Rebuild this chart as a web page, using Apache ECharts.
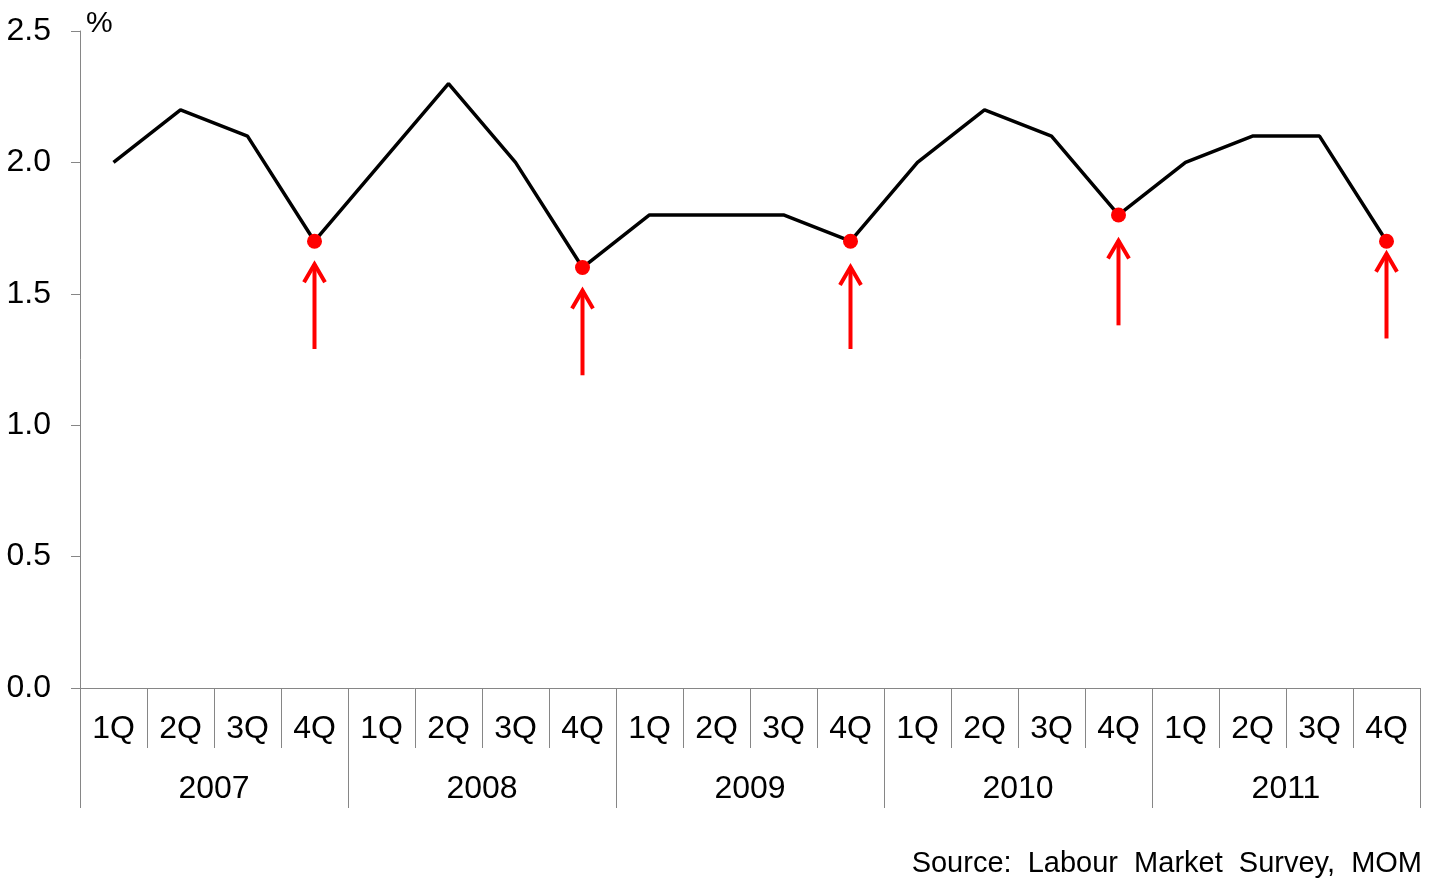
<!DOCTYPE html>
<html>
<head>
<meta charset="utf-8">
<script src="https://cdn.jsdelivr.net/npm/echarts@6/dist/echarts.min.js"></script>
<style>
html,body{margin:0;padding:0;background:#fff;}
#main{width:1444px;height:892px;}
</style>
</head>
<body>
<div id="main"></div>
<script>
// ---- data ----
var quarters = ['1Q','2Q','3Q','4Q','1Q','2Q','3Q','4Q','1Q','2Q','3Q','4Q','1Q','2Q','3Q','4Q','1Q','2Q','3Q','4Q'];
var years = ['2007','2008','2009','2010','2011'];
var rates = [2.0,2.2,2.1,1.7, 2.0,2.3,2.0,1.6, 1.8,1.8,1.8,1.7, 2.0,2.2,2.1,1.8, 2.0,2.1,2.1,1.7];
var highlightIdx = [3, 7, 11, 15, 19];
var arrowTop = [1.62, 1.52, 1.61, 1.71, 1.66];
var arrowBottom = [1.29, 1.19, 1.29, 1.38, 1.33];
var yTicks = [0, 0.5, 1.0, 1.5, 2.0, 2.5];
var sourceText = 'Source:  Labour  Market  Survey,  MOM';

var FONT = '"Liberation Sans", Arial, sans-serif';
var AXIS_GRAY = '#868686';

var chart = echarts.init(document.getElementById('main'), null, {renderer: 'canvas'});

var highlightData = highlightIdx.map(function (i) { return [i, rates[i]]; });
var arrowData = highlightIdx.map(function (i, k) { return [i, arrowTop[k], arrowBottom[k]]; });

var option = {
  animation: false,
  backgroundColor: '#ffffff',
  grid: {left: 80, right: 24, top: 31, bottom: 204, containLabel: false},
  xAxis: [
    {
      type: 'category',
      data: quarters,
      position: 'bottom',
      boundaryGap: true,
      axisLine: {show: true, lineStyle: {color: AXIS_GRAY, width: 1}},
      axisTick: {show: true, interval: 0, length: 60, lineStyle: {color: AXIS_GRAY, width: 1}},
      axisLabel: {interval: 0, margin: 25, fontSize: 32, color: '#000', fontFamily: FONT},
      splitLine: {show: false}
    },
    {
      type: 'category',
      data: years,
      position: 'bottom',
      boundaryGap: true,
      axisLine: {show: false},
      axisTick: {show: true, interval: 0, length: 120, lineStyle: {color: AXIS_GRAY, width: 1}},
      axisLabel: {interval: 0, margin: 85, fontSize: 32, color: '#000', fontFamily: FONT},
      splitLine: {show: false}
    }
  ],
  yAxis: {
    type: 'value',
    min: yTicks[0],
    max: yTicks[yTicks.length - 1],
    interval: 0.5,
    axisLine: {show: true, lineStyle: {color: AXIS_GRAY, width: 1}},
    axisTick: {show: true, length: 9, lineStyle: {color: AXIS_GRAY, width: 1}},
    axisLabel: {
      margin: 29, fontSize: 32, color: '#000', fontFamily: FONT,
      formatter: function (v) { return v.toFixed(1); }
    },
    splitLine: {show: false}
  },
  graphic: [
    {type: 'text', left: 86, top: 9, style: {text: '%', fontSize: 30, fontFamily: FONT, fill: '#000'}},
    {type: 'text', right: 22, top: 849, style: {text: sourceText, fontSize: 29, fontFamily: FONT, fill: '#000'}}
  ],
  series: [
    {
      type: 'line',
      xAxisIndex: 0,
      data: rates,
      symbol: 'none',
      lineStyle: {color: '#000', width: 3.5},
      z: 2
    },
    {
      type: 'scatter',
      xAxisIndex: 0,
      data: highlightData,
      symbol: 'circle',
      symbolSize: 15,
      itemStyle: {color: '#ff0000', opacity: 1},
      z: 3
    },
    {
      type: 'custom',
      xAxisIndex: 0,
      data: arrowData,
      encode: {x: 0, y: [1, 2]},
      renderItem: function (params, api) {
        var top = api.coord([api.value(0), api.value(1)]);
        var bot = api.coord([api.value(0), api.value(2)]);
        var x = top[0];
        var style = {stroke: '#ff0000', lineWidth: 4, fill: null};
        return {
          type: 'group',
          children: [
            {type: 'line', shape: {x1: x, y1: bot[1], x2: x, y2: top[1] + 2}, style: style},
            {type: 'polyline', shape: {points: [[x - 10.5, top[1] + 20], [x, top[1] + 2], [x + 10.5, top[1] + 20]]},
             style: {stroke: '#ff0000', lineWidth: 4, fill: null, lineJoin: 'miter'}}
          ]
        };
      },
      z: 4
    }
  ]
};
chart.setOption(option);
</script>
</body>
</html>
